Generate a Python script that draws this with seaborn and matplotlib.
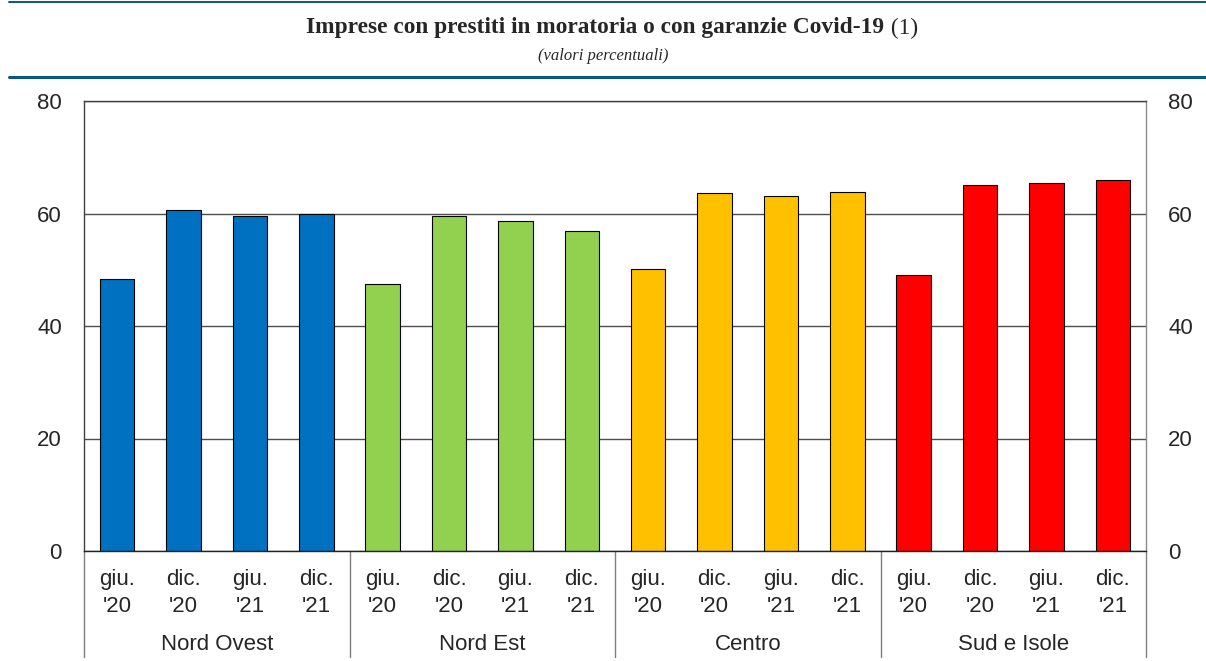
import matplotlib
matplotlib.use("Agg")
import matplotlib.pyplot as plt
import matplotlib.transforms as mtransforms
from matplotlib.lines import Line2D
import seaborn as sns
import pandas as pd

# ---- data ----
regions = ["Nord Ovest", "Nord Est", "Centro", "Sud e Isole"]
periods = ["giu.\n'20", "dic.\n'20", "giu.\n'21", "dic.\n'21"]
nord_ovest = [48.3, 60.7, 59.6, 60.0]
nord_est = [47.5, 59.6, 58.7, 56.9]
centro = [50.1, 63.6, 63.2, 63.8]
sud_isole = [49.1, 65.1, 65.4, 65.9]
colors = ["#0070C0", "#92D050", "#FFC000", "#FF0000"]
y_ticks = [0, 20, 40, 60, 80]
title = "Imprese con prestiti in moratoria o con garanzie Covid-19"
title_note = " (1)"
subtitle = "(valori percentuali)"

sns.set_theme(style="white")
plt.rcParams['font.family'] = ['Liberation Sans', 'DejaVu Sans']

rows = []
for r, vals in zip(regions, [nord_ovest, nord_est, centro, sud_isole]):
    for p, v in zip(periods, vals):
        rows.append({"key": f"{r}|{p}", "region": r, "period": p, "value": v})
df = pd.DataFrame(rows)

W, H = 1206, 661
fs = 16
fig = plt.figure(figsize=(W / 100, H / 100), dpi=100)
ax = fig.add_axes([84 / W, 1 - 551 / H, (1146 - 84) / W, 450 / H])

sns.barplot(data=df, x="key", y="value", hue="region",
            palette=dict(zip(regions, colors)), dodge=False, width=0.52,
            edgecolor="black", linewidth=0.8, legend=False, ax=ax,
            saturation=1)

ax.set_xlim(-0.5, len(df) - 0.5)
ax.set_ylim(0, 80)
ax.set_yticks(y_ticks)
ax.set_axisbelow(True)
ax.yaxis.grid(True, color="#4d4d4d", linewidth=1.0)
ax.xaxis.grid(False)
for s in ax.spines.values():
    s.set_linewidth(1.0)
ax.spines["left"].set_color("#404040")
ax.spines["top"].set_color("#404040")
ax.spines["right"].set_color("#8a8a8a")
ax.spines["bottom"].set_color("#222222")
ax.set_xlabel("")
ax.set_ylabel("")
ax.set_xticks(range(len(df)))
ax.set_xticklabels(df["period"], fontsize=fs, linespacing=1.4)
ax.tick_params(axis="x", length=0, pad=13)
ax.tick_params(axis="y", length=0, pad=16, labelsize=fs,
               labelleft=True, labelright=True)

trans = mtransforms.blended_transform_factory(ax.transData, ax.transAxes)
for i in range(len(regions) + 1):
    xpos = i * len(periods) - 0.5
    ax.plot([xpos, xpos], [0, -(657 - 551) / 450], transform=trans,
            color="#7f7f7f", lw=1.0, clip_on=False)
for i, r in enumerate(regions):
    xc = i * len(periods) + (len(periods) - 1) / 2
    ax.text(xc, -(645 - 551) / 450, r, transform=trans, ha="center",
            va="center", fontsize=fs)

# ---- header ----
line_col = "#075a7b"
fig.add_artist(Line2D([9 / W, 1], [1 - 1.5 / H, 1 - 1.5 / H], color=line_col,
                      lw=1.4, transform=fig.transFigure))
fig.add_artist(Line2D([9 / W, 1], [1 - 77 / H, 1 - 77 / H], color=line_col,
                      lw=2.2, transform=fig.transFigure))

renderer = fig.canvas.get_renderer()
ty = 1 - 28 / H
t1 = fig.text(0.5, ty, title, fontsize=16.8, fontweight="bold",
              family=["Liberation Serif"], ha="left", va="center")
t2 = fig.text(0.5, ty, title_note, fontsize=16.8, family=["Liberation Serif"],
              ha="left", va="center")
w1 = t1.get_window_extent(renderer).width
w2 = t2.get_window_extent(renderer).width
x0 = (612 - (w1 + w2) / 2) / W
t1.set_x(x0)
t2.set_x(x0 + w1 / W)
fig.text(0.5, 1 - 56 / H, subtitle, fontsize=12, style="italic",
         family=["Liberation Serif"], ha="center", va="center")

fig.savefig("out.png", dpi=100)
